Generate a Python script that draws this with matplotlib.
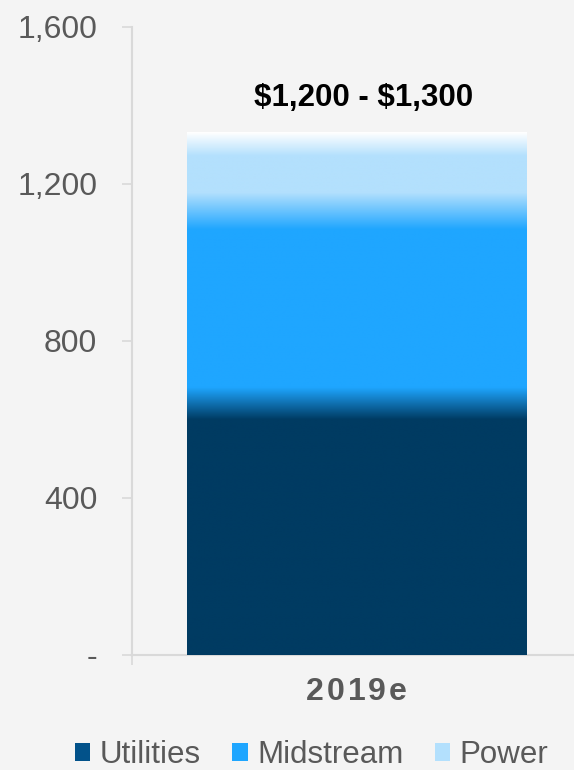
import numpy as np
import matplotlib.pyplot as plt
import matplotlib.colors as mcolors
from matplotlib.patches import Patch

plt.rcParams['font.family'] = ['Liberation Sans', 'DejaVu Sans']

category = "2019e"
segments = ["Utilities", "Midstream", "Power"]
values = [640, 490, 200]
range_label = r"\$1,200 - \$1,300"
yticks = [0, 400, 800, 1200, 1600]
ytick_labels = ["-", "400", "800", "1,200", "1,600"]

colors = ["#003B62", "#1FA6FF", "#B3E0FD"]
legend_colors = ["#02528A", "#1FA6FF", "#B3E0FD"]
bg = "#F4F4F4"
grey = "#595959"

fig = plt.figure(figsize=(5.74, 7.70), dpi=100, facecolor=bg)
ax = fig.add_axes([0.23, 0.1494, 0.77, 0.8156], facecolor=bg)

# stacked bar (solid), then a soft gradient image over it
bottoms = np.concatenate([[0], np.cumsum(values)[:-1]])
total = sum(values)
bars = []
for v, b, c in zip(values, bottoms, colors):
    bars.append(ax.bar(0, v, bottom=b, width=0.6, color=c, zorder=2)[0])

# gradient between segments
ys = np.linspace(0, total, 800)
rgb = [np.array(mcolors.to_rgb(c)) for c in colors]
col = np.zeros((len(ys), 3))
blend_w = [82, 94]
for i, y in enumerate(ys):
    c = rgb[0]
    for k, edge in enumerate(np.cumsum(values)[:-1]):
        t = np.clip((y - (edge - blend_w[k] / 2)) / blend_w[k], 0, 1)
        c = c * (1 - t) + rgb[k + 1] * t
    # white fade at the top of the stack
    t = np.clip((y - (total - 60)) / 60, 0, 1)
    c = c * (1 - t) + np.array([1, 1, 1]) * t
    col[i] = c
img = col[::-1][:, None, :]
x0 = bars[0].get_x()
w = bars[0].get_width()
ax.imshow(img, extent=[x0, x0 + w, 0, total], aspect='auto', zorder=3,
          interpolation='bilinear')

ax.annotate(range_label, xy=(0, total + 88), xytext=(5, 0),
            textcoords='offset points', ha='center', va='center',
            fontsize=22.5, fontweight='bold', color='black')

ax.set_xlim(-0.397, 0.385)
ax.set_ylim(0, 1600)
ax.set_yticks(yticks)
ax.set_yticklabels(ytick_labels, fontsize=23, color=grey)
ax.set_xticks([-0.397])
ax.set_xticklabels([""])
ax.tick_params(axis='y', length=7, width=1.2, color='#D9D9D9', pad=18)
ax.tick_params(axis='x', length=7, width=1.2, color='#D9D9D9')
for s in ['top', 'right']:
    ax.spines[s].set_visible(False)
for s in ['left', 'bottom']:
    ax.spines[s].set_color('#D9D9D9')
    ax.spines[s].set_linewidth(1.5)

# category label with a little letter spacing
for j, ch in enumerate(category):
    ax.annotate(ch, xy=(0, 0), xycoords='data',
                xytext=((j - 2) * 15, -26.5), textcoords='offset points',
                ha='center', va='center', fontsize=23, fontweight='bold',
                color=grey, annotation_clip=False)

handles = [Patch(facecolor=c, edgecolor='none') for c in legend_colors]
fig.legend(handles, segments, loc='center', bbox_to_anchor=(0.543, 0.019),
           ncol=3, frameon=False, fontsize=22.5, handlelength=0.5,
           handleheight=0.5, handletextpad=0.3, columnspacing=1.0,
           labelcolor=grey)

fig.savefig("out.png", dpi=100, facecolor=bg)
